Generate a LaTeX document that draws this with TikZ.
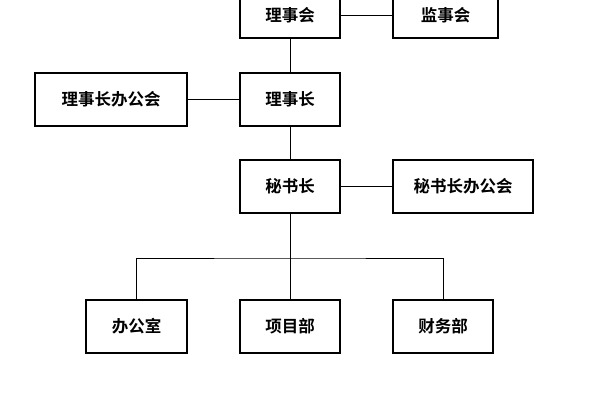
\documentclass[tikz,border=0pt]{standalone}
\usepackage{fontspec}
\newfontfamily\cjk{Noto Sans CJK SC}[BoldFont={Noto Sans CJK SC Bold}]
\begin{document}
\begin{tikzpicture}[x=1pt,y=-1pt,
  box/.style={draw,line width=1.2pt,inner sep=0pt,font=\cjk\bfseries\fontsize{16.5}{19}\selectfont},
  ln/.style={line width=1pt}]
\useasboundingbox[fill=white] (0,0) rectangle (600,400);
\node[box,minimum width=100pt,minimum height=46pt] (lsh) at (290,15) {理事会};
\node[box,minimum width=105pt,minimum height=46pt] (jsh) at (445.5,15) {监事会};
\node[box,minimum width=152pt,minimum height=53pt] (lszb) at (111,99.5) {理事长办公会};
\node[box,minimum width=100pt,minimum height=53pt] (lsz) at (290,99.5) {理事长};
\node[box,minimum width=100pt,minimum height=53pt] (msz) at (290,186.5) {秘书长};
\node[box,minimum width=140pt,minimum height=53pt] (mszb) at (463,186.5) {秘书长办公会};
\node[box,minimum width=101pt,minimum height=53pt] (bgs) at (136.5,326.5) {办公室};
\node[box,minimum width=100pt,minimum height=53pt] (xmb) at (290,326.5) {项目部};
\node[box,minimum width=100pt,minimum height=53pt] (cwb) at (443,326.5) {财务部};
\coordinate (bus) at (290,258);
\draw[ln] (lsh) -- (jsh);
\draw[ln] (lsh) -- (lsz);
\draw[ln] (lszb) -- (lsz);
\draw[ln] (lsz) -- (msz);
\draw[ln] (msz) -- (mszb);
\draw[ln] (msz) -- (bus);
\draw[ln] (bgs.north) |- (bus) -| (cwb.north);
\draw[ln] (bus) -- (xmb);
\end{tikzpicture}
\end{document}
